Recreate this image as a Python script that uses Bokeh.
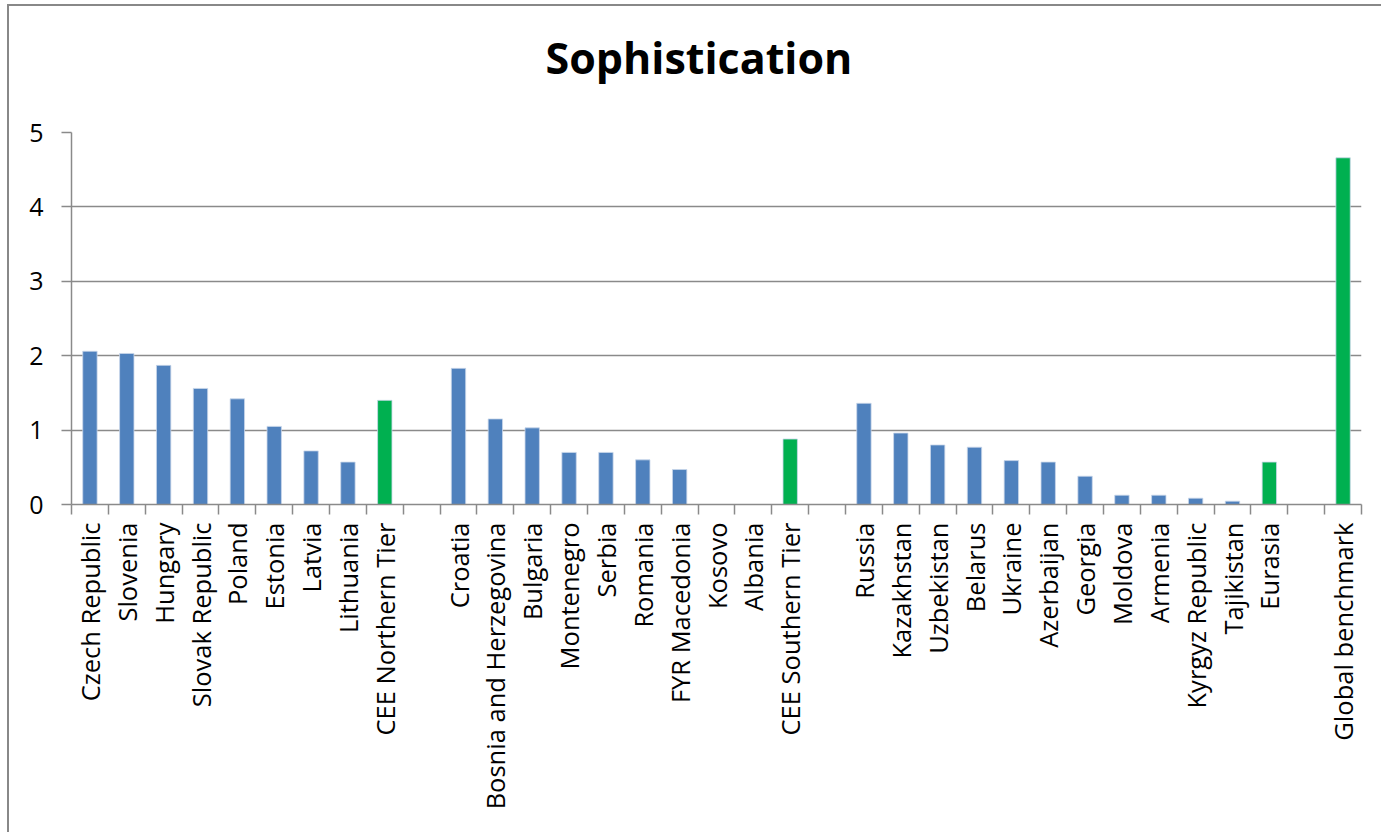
import math
from bokeh.plotting import figure
from bokeh.models import FixedTicker, ColumnDataSource, Range1d, Title
from bokeh.embed import file_html
from bokeh.resources import INLINE

# Sophistication scores by country, grouped by region
northern_countries = ["Czech Republic", "Slovenia", "Hungary", "Slovak Republic", "Poland",
                      "Estonia", "Latvia", "Lithuania"]
northern_values = [2.06, 2.03, 1.87, 1.56, 1.42, 1.05, 0.72, 0.57]

southern_countries = ["Croatia", "Bosnia and Herzegovina", "Bulgaria", "Montenegro", "Serbia",
                      "Romania", "FYR Macedonia", "Kosovo", "Albania"]
southern_values = [1.83, 1.15, 1.03, 0.70, 0.70, 0.60, 0.47, 0.0, 0.0]

eurasia_countries = ["Russia", "Kazakhstan", "Uzbekistan", "Belarus", "Ukraine", "Azerbaijan",
                     "Georgia", "Moldova", "Armenia", "Kyrgyz Republic", "Tajikistan"]
eurasia_values = [1.36, 0.96, 0.80, 0.77, 0.59, 0.57, 0.38, 0.125, 0.125, 0.085, 0.045]

aggregate_names = ["CEE Northern Tier", "CEE Southern Tier", "Eurasia", "Global benchmark"]
aggregate_values = [1.40, 0.88, 0.57, 4.66]

y_ticks = [0, 1, 2, 3, 4, 5]

COUNTRY_COLOR = "#4F81BD"
AGGREGATE_COLOR = "#00B050"
GRID_COLOR = "#8A8A8A"
FONT = "Open Sans"

# Lay the groups out left to right with an empty slot after each regional average
names, values, colors, slots = [], [], [], []
slot = 0
groups = [
    (northern_countries, northern_values, [aggregate_names[0]], [aggregate_values[0]]),
    (southern_countries, southern_values, [aggregate_names[1]], [aggregate_values[1]]),
    (eurasia_countries, eurasia_values, [aggregate_names[2]], [aggregate_values[2]]),
    ([], [], [aggregate_names[3]], [aggregate_values[3]]),
]
for gi, (cn, cv, an, av) in enumerate(groups):
    for n, v in zip(cn, cv):
        names.append(n); values.append(v); colors.append(COUNTRY_COLOR); slots.append(slot)
        slot += 1
    for n, v in zip(an, av):
        names.append(n); values.append(v); colors.append(AGGREGATE_COLOR); slots.append(slot)
        slot += 1
    if gi < len(groups) - 1:
        slot += 1
n_slots = slot

centers = [s + 0.5 for s in slots]
source = ColumnDataSource(dict(x=centers, top=values, color=colors, name=names))

# the chart area sits inside a grey border at x=7, y=4 of the page
OFF_L, OFF_T, BORDER = 7, 4, 2
IN_L, IN_T = OFF_L + BORDER, OFF_T + BORDER
W, H = 1381 - IN_L, 832 - IN_T
FRAME_L, FRAME_R, FRAME_T, FRAME_B = 71 - IN_L, 1359 - IN_L, 132 - IN_T, 502 - IN_T

p = figure(width=W, height=H, output_backend="svg", toolbar_location=None,
           x_range=Range1d(0, n_slots), y_range=Range1d(0, 5),
           min_border_left=FRAME_L, min_border_right=W - FRAME_R,
           min_border_top=FRAME_T, min_border_bottom=H - FRAME_B,
           background_fill_color="white", border_fill_color="white",
           outline_line_color=None, title=None)
p.margin = (OFF_T, 0, 0, OFF_L)
p.styles = {"border-top": f"{BORDER}px solid #888888",
            "border-left": f"{BORDER}px solid #888888",
            "box-sizing": "content-box"}

# spacer between the plot frame and the chart title, then the title itself
p.add_layout(Title(text=" ", text_font=FONT, text_font_size="10px", standoff=25), "above")
p.add_layout(Title(text="Sophistication", text_font=FONT, text_font_size="43px",
                   text_font_style="bold", text_color="#000000", align="left",
                   offset=545 - 71, standoff=10), "above")

p.vbar(x="x", top="top", bottom=0, width=0.39, source=source,
       fill_color="color", line_color="#C9D7EA", line_width=0.8)

# y axis
p.yaxis.ticker = FixedTicker(ticks=y_ticks)
p.yaxis.axis_line_color = GRID_COLOR
p.yaxis.axis_line_width = 1.5
p.yaxis.major_tick_line_color = GRID_COLOR
p.yaxis.major_tick_line_width = 1.5
p.yaxis.major_tick_out = 10
p.yaxis.major_tick_in = 0
p.yaxis.minor_tick_line_color = None
p.yaxis.major_label_standoff = 18
p.yaxis.major_label_text_font = FONT
p.yaxis.major_label_text_font_size = "25px"
p.yaxis.major_label_text_color = "#000000"

# x axis: labels at slot centres, tick marks between slots
label_map = {c: n for c, n in zip(centers, names)}
for s in range(n_slots):
    if s not in slots:
        label_map[s + 0.5] = ""
p.xaxis.ticker = FixedTicker(ticks=[s + 0.5 for s in range(n_slots)],
                             minor_ticks=list(range(n_slots + 1)))
p.xaxis.major_label_overrides = label_map
p.xaxis.major_label_orientation = math.pi / 2
p.xaxis.major_tick_line_color = None
p.xaxis.major_tick_out = 10
p.xaxis.major_tick_in = 0
p.xaxis.minor_tick_line_color = GRID_COLOR
p.xaxis.minor_tick_line_width = 1.5
p.xaxis.minor_tick_out = 10
p.xaxis.minor_tick_in = 0
p.xaxis.axis_line_color = GRID_COLOR
p.xaxis.axis_line_width = 1.5
p.xaxis.major_label_standoff = 8
p.xaxis.major_label_text_font = FONT
p.xaxis.major_label_text_font_size = "25.5px"
p.xaxis.major_label_text_color = "#000000"

p.xgrid.grid_line_color = None
p.ygrid.ticker = FixedTicker(ticks=y_ticks)
p.ygrid.grid_line_color = GRID_COLOR
p.ygrid.grid_line_width = 1.5

open("out.html", "w").write(file_html(p, INLINE))
